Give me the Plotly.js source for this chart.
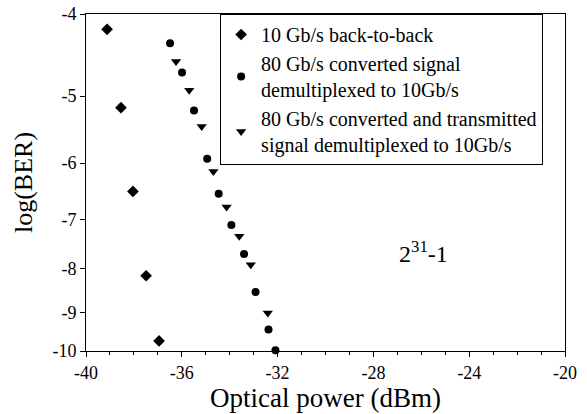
<!DOCTYPE html>
<html>
<head>
<meta charset="utf-8">
<script src="https://cdn.plot.ly/plotly-3.0.1.min.js"></script>
<style>html,body{margin:0;padding:0;background:#fff;}#chart{width:587px;height:414px;}</style>
</head>
<body>
<div id="chart"></div>
<script>
// Optical power (dBm) and log10(BER)
const b2bPower = [-39.12, -38.54, -38.04, -37.49, -36.95];
const b2bLogBER = [-4.17, -5.16, -6.48, -8.15, -9.73];

const convPower = [-36.49, -35.99, -35.49, -34.94, -34.46, -33.93, -33.40, -32.92, -32.38, -32.09];
const convLogBER = [-4.33, -4.69, -5.20, -5.93, -6.52, -7.10, -7.68, -8.52, -9.43, -9.98];

const transPower = [-36.24, -35.69, -35.17, -34.68, -34.13, -33.60, -33.12, -32.41];
const transLogBER = [-4.55, -4.92, -5.43, -6.14, -6.76, -7.32, -7.91, -9.02];

const seriesNames = [
  "10 Gb/s back-to-back",
  "80 Gb/s converted signal<br>demultiplexed to 10Gb/s",
  "80 Gb/s converted and transmitted<br>signal demultiplexed to 10Gb/s"
];

const yTickVals = [-4, -5, -6, -7, -8, -9, -10];
const yTickText = ["-4", "-5", "-6", "-7", "-8", "-9", "-10"];
const xTickVals = [-40, -36, -32, -28, -24, -20];

const prbsLabel = "2<sup>31</sup>-1";
const prbsPos = {x: -25.9, logBER: -7.65};

// BER axis: log(-log(BER)) scale, plotted as -log10(BER) on a reversed log axis
const neg = a => a.map(v => -v);
const FONT = "Liberation Serif, Times New Roman, serif";

const traces = [
  {x: b2bPower, y: neg(b2bLogBER), name: seriesNames[0], mode: "markers",
   marker: {symbol: "diamond", size: 9, color: "#000"}, cliponaxis: false},
  {x: convPower, y: neg(convLogBER), name: seriesNames[1], mode: "markers",
   marker: {symbol: "circle", size: 8, color: "#000"}, cliponaxis: false},
  {x: transPower, y: neg(transLogBER), name: seriesNames[2], mode: "markers",
   marker: {symbol: "triangle-down", size: 9, color: "#000"}, cliponaxis: false}
];

const layout = {
  width: 587, height: 414,
  margin: {l: 86, r: 22, t: 14, b: 63},
  paper_bgcolor: "#fff", plot_bgcolor: "#fff",
  font: {family: FONT, color: "#000", size: 18},
  showlegend: true,
  legend: {x: 0.28, y: 1, xanchor: "left", yanchor: "top",
           bordercolor: "#000", borderwidth: 1, bgcolor: "#fff",
           font: {family: FONT, size: 20}, tracegroupgap: 2},
  xaxis: {
    range: [-40, -20], tickvals: xTickVals, ticktext: xTickVals.map(String),
    ticks: "outside", ticklen: 5, tickcolor: "#000",
    minor: {dtick: 1, ticks: "outside", ticklen: 3, tickcolor: "#000"},
    showline: true, linecolor: "#000", linewidth: 1, mirror: true,
    showgrid: false, zeroline: false,
    tickfont: {family: FONT, size: 18},
    title: {text: "Optical power (dBm)", font: {family: FONT, size: 27}, standoff: 4}
  },
  yaxis: {
    type: "log", range: [1, Math.log10(4)],
    tickvals: neg(yTickVals), ticktext: yTickText,
    ticks: "outside", ticklen: 5, tickcolor: "#000",
    showline: true, linecolor: "#000", linewidth: 1, mirror: true,
    showgrid: false, zeroline: false,
    tickfont: {family: FONT, size: 18},
    title: {text: "log(BER)", font: {family: FONT, size: 26}, standoff: 12}
  },
  annotations: [
    {x: prbsPos.x, y: Math.log10(-prbsPos.logBER), xref: "x", yref: "y",
     text: prbsLabel, showarrow: false, font: {family: FONT, size: 24, color: "#000"}}
  ]
};

Plotly.newPlot("chart", traces, layout, {displayModeBar: false, staticPlot: true});
</script>
</body>
</html>
